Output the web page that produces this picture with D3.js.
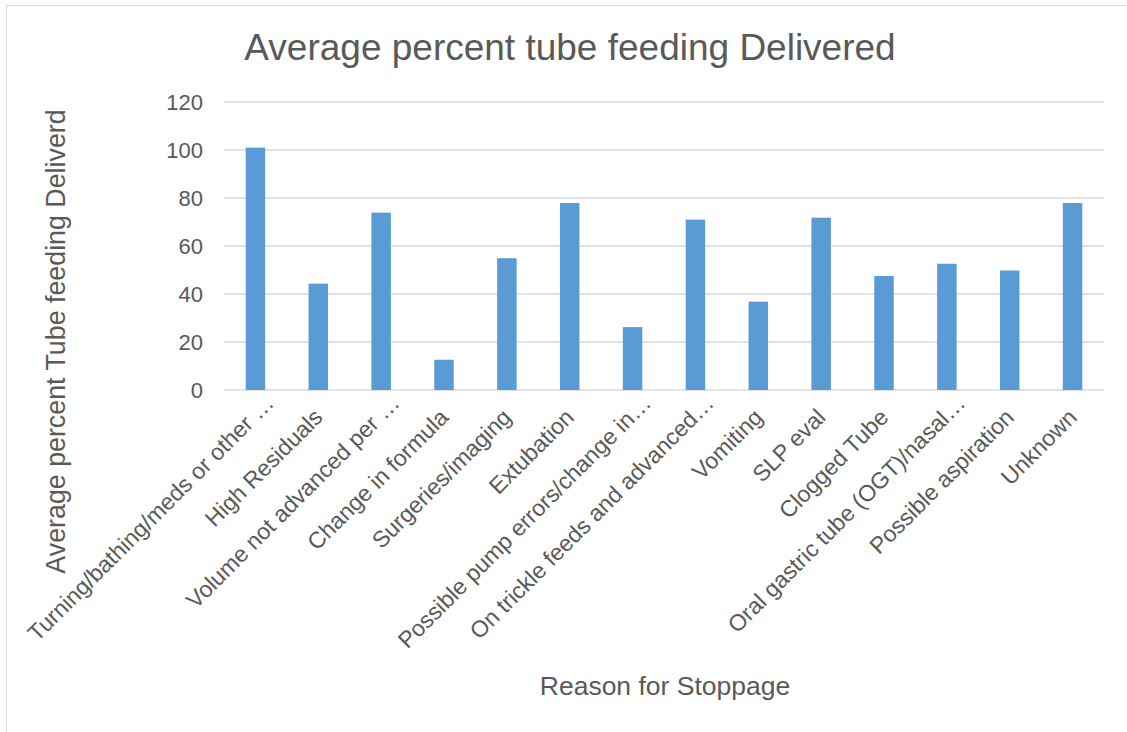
<!DOCTYPE html>
<html><head><meta charset="utf-8">
<script src="https://cdn.jsdelivr.net/npm/d3@7"></script>
<style>body{margin:0;background:#fff}svg{display:block;font-family:"Liberation Sans",Arial,sans-serif}</style>
</head><body><svg id="c" width="1127" height="732"></svg>
<script>
const categories = ["Turning/bathing/meds or other \u2026","High Residuals","Volume not advanced per \u2026","Change in formula","Surgeries/imaging","Extubation","Possible pump errors/change in\u2026","On trickle feeds and advanced\u2026","Vomiting","SLP eval","Clogged Tube","Oral gastric tube (OGT)/nasal\u2026","Possible aspiration","Unknown"];
const values = [101, 44.3, 73.9, 12.6, 54.9, 77.9, 26.2, 71.0, 36.8, 71.8, 47.5, 52.6, 49.8, 77.9];
const yTicks = [0,20,40,60,80,100,120];
const title = "Average percent tube feeding Delivered";
const yTitle = "Average percent Tube feeding Deliverd";
const xTitle = "Reason for Stoppage";

(function(){
const svg = d3.select("#c");
const textColor = "#595959";
const ff = "Liberation Sans, Arial, sans-serif";
svg.append("rect").attr("x",6.5).attr("y",5.5).attr("width",1300).attr("height",900)
  .attr("fill","none").attr("stroke","#d9d9d9").attr("stroke-width",1);

const pl=224, pr=1104, pt=102, pb=390;
const x = d3.scaleBand().domain(categories).range([pl,pr]).paddingInner(0.69).paddingOuter(0.345);
const y = d3.scaleLinear().domain([0,120]).range([pb,pt]);

svg.append("g").selectAll("line").data(yTicks).join("line")
  .attr("x1",pl).attr("x2",pr).attr("y1",d=>y(d)).attr("y2",d=>y(d))
  .attr("stroke","#d9d9d9").attr("stroke-width",1.5);

const yAxis = d3.axisLeft(y).tickValues(yTicks).tickSize(0).tickPadding(0);
const ya = svg.append("g").attr("transform",`translate(203,0)`).call(yAxis);
ya.select(".domain").remove();
ya.selectAll("text").attr("fill",textColor).attr("font-size",22).attr("font-family",ff);

svg.append("g").selectAll("rect").data(values).join("rect")
  .attr("x",(d,i)=>x(categories[i])).attr("width",x.bandwidth())
  .attr("y",d=>y(d)).attr("height",d=>y(0)-y(d))
  .attr("fill","#5b9bd5");

const xAxis = d3.axisBottom(x).tickSize(0).tickPadding(0);
const xa = svg.append("g").attr("transform",`translate(0,${pb})`).call(xAxis);
xa.select(".domain").remove();
xa.selectAll("text").attr("fill",textColor).attr("font-size",23).attr("font-family",ff)
  .attr("text-anchor","end").attr("dy","0.35em")
  .attr("transform",d=>`translate(0,23) rotate(-45) translate(${d.endsWith("\u2026")?20:0},0)`);

svg.append("text").attr("x",570).attr("y",60).attr("text-anchor","middle")
  .attr("font-size",37).attr("font-family",ff).attr("fill",textColor).text(title);
svg.append("text").attr("transform",`translate(65,341.5) rotate(-90)`).attr("text-anchor","middle")
  .attr("font-size",26.8).attr("font-family",ff).attr("fill",textColor).text(yTitle);
svg.append("text").attr("x",665).attr("y",695).attr("text-anchor","middle")
  .attr("font-size",26.5).attr("font-family",ff).attr("fill",textColor).text(xTitle);
})();
</script></body></html>
